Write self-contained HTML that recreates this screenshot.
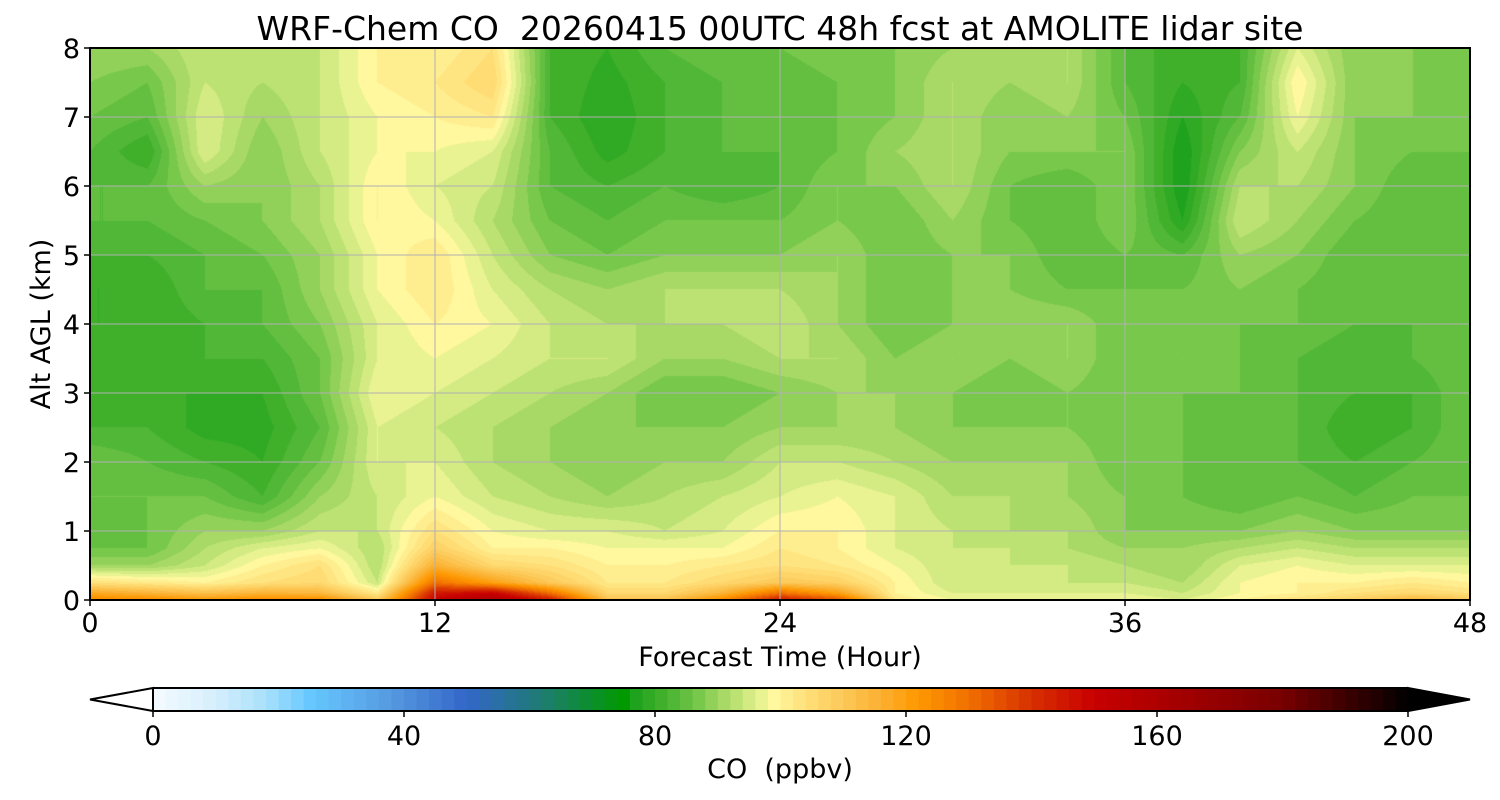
<!DOCTYPE html>
<html><head><meta charset="utf-8"><style>
html,body{margin:0;padding:0;background:#fff;}
#wrap{position:relative;width:1500px;height:800px;font-family:"DejaVu Sans","Liberation Sans",sans-serif;}
canvas{position:absolute;left:90px;top:48px;}
svg{position:absolute;left:0;top:0;}
svg text{white-space:pre;}
</style></head><body>
<div id="wrap">
<canvas id="field" width="1380" height="552"></canvas>
<svg id="ax" width="1500" height="800"></svg>
</div>
<script>
const hours = [0,2,4,6,8,10,12,14,16,18,20,22,24,26,28,30,32,34,36,38,40,42,44,46,48];
const altitudes = [0,0.1,0.25,0.5,0.75,1,1.5,2,2.5,3,3.5,4,4.5,5,5.5,6,6.5,7,7.5,8];
const co_0   = [125,125,122,125,125,110,150,160,145,112,112,125,145,135,102,98,98,98,98,96,100,104,108,115,110];
const co_01  = [118,115,112,115,114,102,145,150,130,106,106,115,130,120,100,96,96,96,96,94,98,100,104,106,104];
const co_025 = [104,102,100,104,106,94,130,120,110,102,102,106,110,108,100,94,94,94,94,92,98,100,100,102,100];
const co_05  = [90,90,94,100,104,92,116,106,104,100,100,102,104,102,98,94,94,94,92,90,96,98,96,96,96];
const co_075 = [86,86,92,96,98,92,108,100,100,98,98,98,102,100,96,94,94,92,90,90,92,94,92,92,92];
const co_1   = [84,86,90,90,94,94,104,98,96,96,94,96,100,100,96,94,92,92,88,88,88,90,88,88,88];
const co_15  = [86,86,86,82,90,94,98,94,92,90,92,94,96,98,96,92,92,90,88,86,84,86,84,86,86];
const co_2   = [86,84,82,80,86,96,96,92,90,88,90,90,94,94,92,90,90,90,86,86,84,84,82,84,86];
const co_25  = [82,82,79,79,84,96,94,92,90,88,88,88,90,90,90,88,88,88,86,86,84,84,80,82,86];
const co_3   = [82,80,80,80,86,98,96,94,92,90,86,86,88,90,90,88,86,88,86,86,86,84,82,82,86];
const co_35  = [82,80,82,82,86,96,98,96,94,94,90,90,92,92,88,90,88,90,86,88,86,84,82,84,86];
const co_4   = [80,80,82,84,88,96,100,98,94,92,92,92,94,90,86,88,90,90,86,86,86,86,84,84,86];
const co_45  = [80,80,84,84,90,98,102,96,92,90,92,92,92,90,86,88,88,86,86,86,88,86,84,84,86];
const co_5   = [82,82,84,86,90,98,102,94,88,86,88,88,88,90,86,88,88,84,86,84,90,88,84,84,86];
const co_55  = [84,84,86,88,92,100,98,92,86,84,86,86,86,88,86,90,86,84,88,78,94,90,86,84,86];
const co_6   = [84,84,90,88,92,100,96,94,84,82,84,82,84,88,88,92,86,84,88,76,92,92,88,84,86];
const co_65  = [84,80,96,88,94,98,98,96,84,79,82,84,84,86,90,92,88,88,88,76,88,94,88,86,86];
const co_7   = [86,84,96,90,94,98,100,102,82,78,82,84,84,86,88,92,88,90,86,78,84,98,88,88,86];
const co_75  = [88,86,94,92,94,100,102,106,82,79,82,84,84,86,88,92,90,92,84,80,82,100,88,88,86];
const co_8   = [90,90,94,92,94,100,100,104,82,80,84,86,86,88,88,90,90,92,84,80,82,96,88,88,86];
const coRows = [co_0,co_01,co_025,co_05,co_075,co_1,co_15,co_2,co_25,co_3,co_35,co_4,co_45,co_5,co_55,co_6,co_65,co_7,co_75,co_8];
const xTicks = [0,12,24,36,48];
const yTicks = [0,1,2,3,4,5,6,7,8];
const cbTicks = [0,40,80,120,160,200];

const PL=90, PT=48, PW=1380, PH=552;
const xS = h => PL + h/48*PW;
const yS = k => PT + PH - k/8*PH;
const cbX = v => 153 + v/200*(1408-153);

const stops=[[0,'#f5faff'],[10,'#d5effc'],[18,'#a8e0fb'],[25,'#66c8ff'],[38,'#5599e0'],[50,'#3366c8'],[61,'#207a7a'],[75,'#009a00'],[77,'#1fa31f'],[81,'#40b02a'],[84,'#5abb3c'],[87,'#78c84c'],[90,'#9dd560'],[93,'#bde274'],[96,'#e0f08a'],[99,'#fff89e'],[104,'#ffe07a'],[110,'#fcc858'],[116,'#fbb030'],[122,'#ff9800'],[130,'#f07000'],[140,'#d83000'],[150,'#c80000'],[165,'#a00000'],[180,'#780000'],[195,'#200000'],[200,'#000000']];
const hx=c=>[parseInt(c.slice(1,3),16),parseInt(c.slice(3,5),16),parseInt(c.slice(5,7),16)];
function cmap(v){
  if(v<=stops[0][0]) return hx(stops[0][1]);
  for(let i=1;i<stops.length;i++){ if(v<=stops[i][0]){const a=stops[i-1],b=stops[i];const t=(v-a[0])/(b[0]-a[0]);const ca=hx(a[1]),cb=hx(b[1]);return ca.map((x,j)=>Math.round(x+(cb[j]-x)*t));}}
  return [0,0,0];
}
function band(v){ return Math.floor(v/2)*2+1; }

const cv=document.getElementById('field'); const ctx=cv.getContext('2d');
const img=ctx.createImageData(PW,PH);
for(let py=0;py<PH;py++){
  const km=(PH-py-0.5)/PH*8;
  let j=0; while(j<altitudes.length-2 && km>altitudes[j+1]) j++;
  const ty=Math.min(1,Math.max(0,(km-altitudes[j])/(altitudes[j+1]-altitudes[j])));
  for(let px=0;px<PW;px++){
    const h=(px+0.5)/PW*48;
    let i=0; while(i<hours.length-2 && h>hours[i+1]) i++;
    const tx=Math.min(1,Math.max(0,(h-hours[i])/(hours[i+1]-hours[i])));
    const r0=coRows[j], r1=coRows[j+1];
    const v=(r0[i]*(1-tx)+r0[i+1]*tx)*(1-ty)+(r1[i]*(1-tx)+r1[i+1]*tx)*ty;
    const c=cmap(band(v)); const o=(py*PW+px)*4;
    img.data[o]=c[0];img.data[o+1]=c[1];img.data[o+2]=c[2];img.data[o+3]=255;
  }
}
ctx.putImageData(img,0,0);

const NS='http://www.w3.org/2000/svg'; const svg=document.getElementById('ax');
function mk(tag,attrs,parent){const e=document.createElementNS(NS,tag);for(const k in attrs)e.setAttribute(k,attrs[k]);(parent||svg).appendChild(e);return e;}
function txt(s,x,y,size,anchor,extra){const e=mk('text',Object.assign({x:x,y:y,'font-size':size,'text-anchor':anchor||'middle',fill:'#000','font-family':'DejaVu Sans, Liberation Sans, sans-serif'},extra||{}));e.textContent=s;return e;}

xTicks.forEach(t=>{
  const l=mk('line',{x1:xS(t),x2:xS(t),y1:PT,y2:PT+PH,stroke:'#b0b0b0','stroke-width':1});
   
  const tk=mk('line',{x1:xS(t),x2:xS(t),y1:PT+PH,y2:PT+PH+6,stroke:'#000','stroke-width':1.5});
   
  const tl=txt(String(t),xS(t),632,27);
   
});
yTicks.forEach(t=>{
  const l=mk('line',{x1:PL,x2:PL+PW,y1:yS(t),y2:yS(t),stroke:'#b0b0b0','stroke-width':1});
   
  const tk=mk('line',{x1:PL-6,x2:PL,y1:yS(t),y2:yS(t),stroke:'#000','stroke-width':1.5});
   
  const tl=txt(String(t),80,yS(t)+10,27,'end');
   
});
const fr=mk('rect',{x:PL,y:PT,width:PW,height:PH,fill:'none',stroke:'#000','stroke-width':2});
 

const ti=txt('WRF-Chem CO  20260415 00UTC 48h fcst at AMOLITE lidar site',780,40,33);
 
const xl=txt('Forecast Time (Hour)',780,666,27);
 
const yl=txt('Alt AGL (km)',0,0,27,'middle',{transform:'translate(50,324) rotate(-90)'});
 

const cbT=688, cbB=711;
const g=mk('g',{});  
for(let v=0;v<200;v+=2){
  const c=cmap(v+1);
  const r=mk('rect',{x:cbX(v),y:cbT,width:cbX(v+2)-cbX(v)+0.6,height:cbB-cbT,fill:'rgb('+c.join(',')+')'},g);
   
}
const lt=mk('polygon',{points:`${cbX(0)},${cbT} 90,${(cbT+cbB)/2} ${cbX(0)},${cbB}`,fill:'#fff',stroke:'#000','stroke-width':2},g);
 
const rt=mk('polygon',{points:`${cbX(200)},${cbT} 1470,${(cbT+cbB)/2} ${cbX(200)},${cbB}`,fill:'#000',stroke:'#000','stroke-width':2},g);
 
mk('line',{x1:cbX(0),x2:cbX(200),y1:cbT,y2:cbT,stroke:'#000','stroke-width':2},g);
mk('line',{x1:cbX(0),x2:cbX(200),y1:cbB,y2:cbB,stroke:'#000','stroke-width':2},g);
cbTicks.forEach(t=>{
  const tk=mk('line',{x1:cbX(t),x2:cbX(t),y1:cbB,y2:cbB+6,stroke:'#000','stroke-width':1.5});
   
  const tl=txt(String(t),cbX(t),745,27);
   
});
const cl=txt('CO  (ppbv)',780,778,27);
 
</script>
</body></html>
